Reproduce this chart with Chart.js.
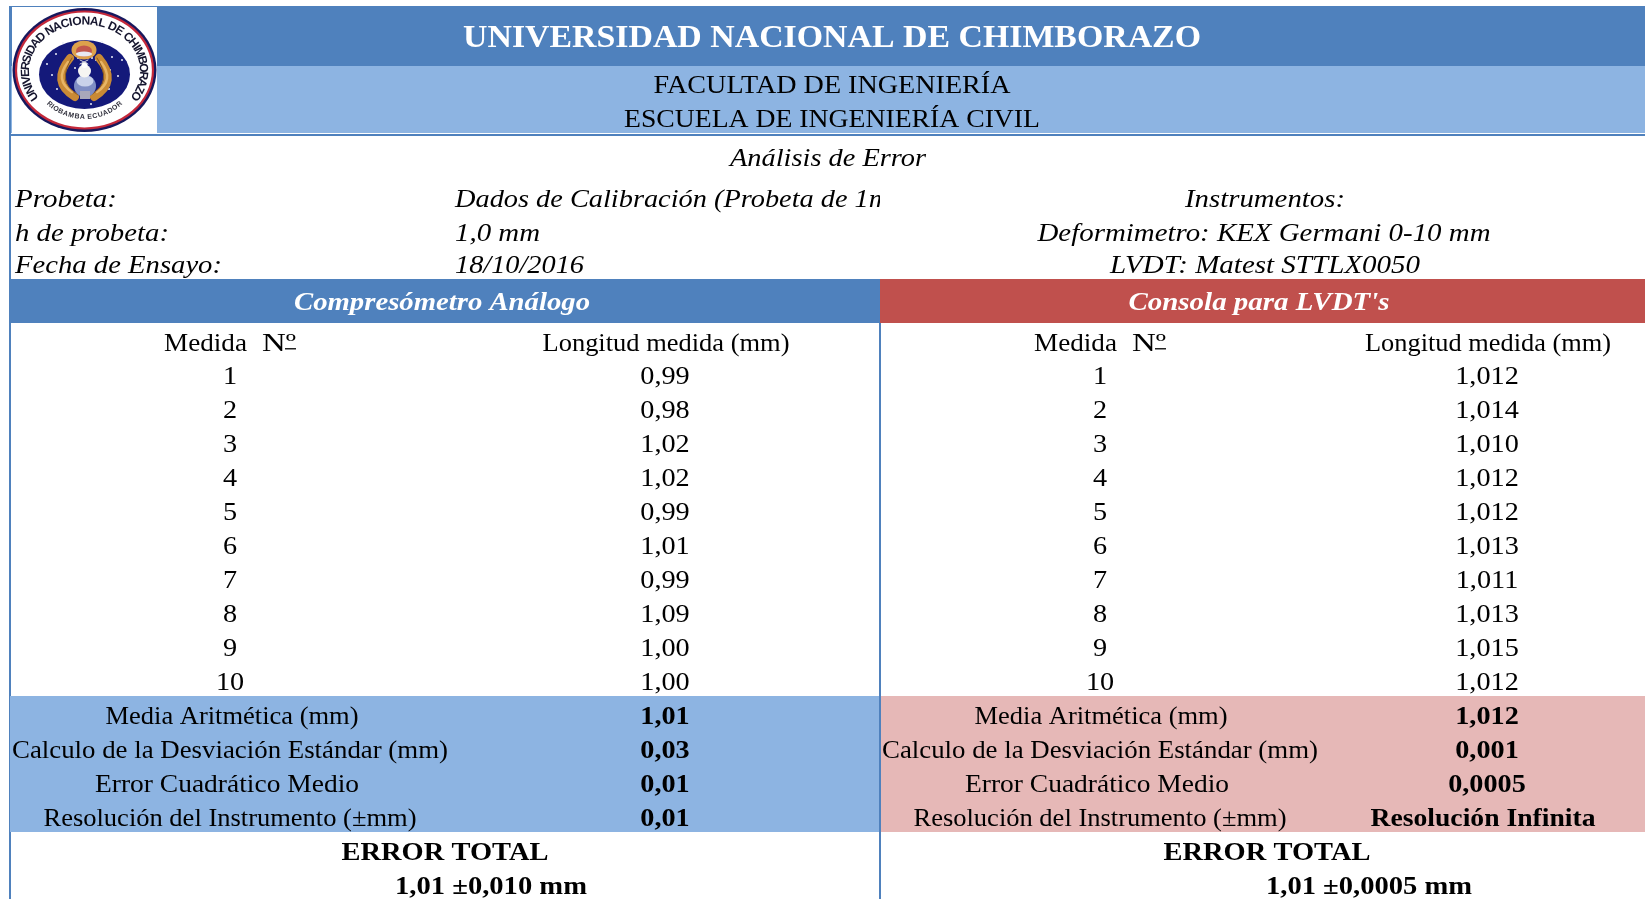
<!DOCTYPE html>
<html lang="es">
<head>
<meta charset="utf-8">
<title>Análisis de Error</title>
<script src="https://cdn.jsdelivr.net/npm/chart.js@4/dist/chart.umd.js"></script>
<style>html,body{margin:0;padding:0;background:#fff;overflow:hidden}canvas{display:block}</style>
</head>
<body>
<canvas id="c" width="1645" height="899"></canvas>
<script>
// ---------- values ----------
const measureNumbers = [1,2,3,4,5,6,7,8,9,10];
const analogLengths = [0.99,0.98,1.02,1.02,0.99,1.01,0.99,1.09,1.00,1.00];
const lvdtLengths = [1.012,1.014,1.010,1.012,1.012,1.013,1.011,1.013,1.015,1.012];
const summaryLabels = ["Media Aritmética (mm)","Calculo de la Desviación Estándar (mm)","Error Cuadrático Medio","Resolución del Instrumento (±mm)"];
const analogSummary = ["1,01","0,03","0,01","0,01"];
const lvdtSummary = ["1,012","0,001","0,0005","Resolución Infinita"];
const totalLabel = "ERROR TOTAL";
const analogTotal = "1,01 ±0,010 mm";
const lvdtTotal = "1,01 ±0,0005 mm";
const infoLabels = ["Probeta:","h de probeta:","Fecha de Ensayo:"];
const infoValues = ["Dados de Calibración (Probeta de 1mm)","1,0 mm","18/10/2016"];
const instrumentLines = ["Instrumentos:","Deformimetro: KEX Germani 0-10 mm","LVDT: Matest STTLX0050"];

// ---------- layout ----------
const W = 1645, H = 899, SPLIT = 880;
const ROW0 = 350, PITCH = 34;
const rowY = i => ROW0 + PITCH * i;
const COL = {lNum:230, lVal:665, rNum:1100, rVal:1487};
const SUM_W = [253,436,264,373];
const SUM_DX = [2,0,-3,0];
const STY = {
  title:{font:'bold 31px "Liberation Serif"',color:'#fff',h:1},
  sub:{font:'26px "Liberation Serif"',color:'#000',h:1},
  ital:{font:'italic 26px "Liberation Serif"',color:'#000',h:1.09},
  head:{font:'italic bold 26px "Liberation Serif"',color:'#fff',h:1},
  body:{font:'25px "Liberation Serif"',color:'#000',h:1.13},
  bold:{font:'bold 25px "Liberation Serif"',color:'#000',h:1.13}
};
const fmt = (v,d) => v.toFixed(d).replace('.',',');
function cell(x,y,text,style,w,align,clip){return {x,y,text,style,w,align,clip};}

const headCells = [
  cell(832,47,"UNIVERSIDAD NACIONAL DE CHIMBORAZO",'title',738),
  cell(832,93,"FACULTAD DE INGENIERÍA",'sub',357),
  cell(832,127,"ESCUELA DE INGENIERÍA CIVIL",'sub',416),
  cell(828,166,"Análisis de Error",'ital',196),
  cell(15,207,infoLabels[0],'ital',102,'left'),
  cell(15,241,infoLabels[1],'ital',154,'left'),
  cell(15,273,infoLabels[2],'ital',207,'left'),
  cell(455,207,infoValues[0],'ital',null,'left',SPLIT),
  cell(455,241,infoValues[1],'ital',85,'left'),
  cell(455,273,infoValues[2],'ital',129,'left'),
  cell(1265,207,instrumentLines[0],'ital',160),
  cell(1264,241,instrumentLines[1],'ital',453),
  cell(1265,273,instrumentLines[2],'ital',310),
  cell(442,310,"Compresómetro Análogo",'head',296),
  cell(1259,310,"Consola para LVDT's",'head',261)
];
const analogCells = [
  cell(164,351,"Medida",'body',83,'left'),
  cell(262,351,"Nº",'body',34,'left'),
  cell(COL.lVal+1,351,"Longitud medida (mm)",'body',247),
  ...measureNumbers.map((n,i)=>cell(COL.lNum,rowY(i+1),String(n),'body')),
  ...analogLengths.map((v,i)=>cell(COL.lVal,rowY(i+1),fmt(v,2),'body')),
  ...summaryLabels.map((t,i)=>cell(COL.lNum+SUM_DX[i],rowY(i+11),t,'body',SUM_W[i])),
  ...analogSummary.map((t,i)=>cell(COL.lVal,rowY(i+11),t,'bold')),
  cell(445,rowY(15),totalLabel,'bold',207),
  cell(491,rowY(16),analogTotal,'bold',192)
];
const lvdtCells = [
  cell(1034,351,"Medida",'body',83,'left'),
  cell(1132,351,"Nº",'body',34,'left'),
  cell(COL.rVal+1,351,"Longitud medida (mm)",'body',246),
  ...measureNumbers.map((n,i)=>cell(COL.rNum,rowY(i+1),String(n),'body')),
  ...lvdtLengths.map((v,i)=>cell(COL.rVal,rowY(i+1),fmt(v,3),'body')),
  ...summaryLabels.map((t,i)=>cell(COL.rNum+[1,0,-3,0][i],rowY(i+11),t,'body',SUM_W[i])),
  ...lvdtSummary.map((t,i)=>cell(i===3?1483:COL.rVal,rowY(i+11),t,'bold',i===3?225:null)),
  cell(1267,rowY(15),totalLabel,'bold',207),
  cell(1369,rowY(16),lvdtTotal,'bold',206)
];

const BLUE='#4F81BD', LIGHT='#8DB4E2', RED='#C0504D', PINK='#E6B8B7';

function drawBands(chart){
  const {ctx,scales:{x,y}} = chart;
  const band=(x0,y0,x1,y1,c)=>{ctx.fillStyle=c;const a=x.getPixelForValue(x0),b=y.getPixelForValue(y0);
    ctx.fillRect(a,b,x.getPixelForValue(x1)-a,y.getPixelForValue(y1)-b);};
  band(0,0,W,H,'#fff');
  band(9,6,W,66,BLUE);
  band(9,66,W,133,LIGHT);
  band(9,134,W,136,BLUE);
  band(9,6,11,H,BLUE);
  band(10,279,SPLIT,323,BLUE);
  band(SPLIT,279,W,323,RED);
  band(10,696,SPLIT,832,LIGHT);
  band(SPLIT,696,W,832,PINK);
  band(879,323,881,H,BLUE);
  band(12,7,157,133,'#fff');
  band(285,348,296,349.5,'#222');
  band(1155,348,1166,349.5,'#222');
}

function arcText(ctx,text,cx,cy,rx,ry,t0,t1,font,color){
  ctx.font=font;ctx.fillStyle=color;ctx.textAlign='center';ctx.textBaseline='alphabetic';
  const ws=[...text].map(c=>ctx.measureText(c).width);
  const tot=ws.reduce((a,b)=>a+b,0);
  let acc=0;
  const flip=t1<t0;
  [...text].forEach((c,i)=>{
    const t=(t0+(t1-t0)*(acc+ws[i]/2)/tot)*Math.PI/180;
    acc+=ws[i];
    const px=cx+rx*Math.cos(t),py=cy+ry*Math.sin(t);
    let ang=Math.atan2(ry*Math.cos(t),-rx*Math.sin(t));
    if(flip)ang+=Math.PI;
    ctx.save();ctx.translate(px,py);ctx.rotate(ang);ctx.fillText(c,0,0);ctx.restore();
  });
}

function drawLogo(ctx){
  const cx=84.5,cy=70;
  const ell=(x,y,rx,ry,c,rot)=>{ctx.fillStyle=c;ctx.beginPath();ctx.ellipse(x,y,rx,ry,rot||0,0,Math.PI*2);ctx.fill();};
  ctx.save();
  ctx.filter='blur(0.6px)';
  ell(cx,cy,72,62,'#17185E');
  ell(cx,cy,69.6,59.6,'#C4283A');
  ell(cx,cy,67.4,57.4,'#fff');
  // inner seal
  ell(cx,74.5,45.5,34.5,'#14197A');
  // stars
  [[63,43],[102,42],[56,54],[112,57],[47,64],[122,60],[52,75],[118,76],[57,89],[109,89],[91,104],[75,68],[96,60],[68,60],[110,70],[78,58],[92,58]]
    .forEach(p=>ell(p[0],p[1],1,1,'#E8ECF8'));
  // dome
  ell(84,50,12.5,9.5,'#DDA24C');
  ell(84,51,8,5.5,'#C2574C');
  ell(84,54,8,2.6,'#E8EAF2');
  // wreath: two laurel crescents
  ctx.lineCap='round';
  const arc=(pts,w,c)=>{ctx.strokeStyle=c;ctx.lineWidth=w;ctx.beginPath();ctx.moveTo(pts[0],pts[1]);ctx.quadraticCurveTo(pts[2],pts[3],pts[4],pts[5]);ctx.stroke();};
  arc([70,58,50,82,75,97],8,'#C98A35');
  arc([99,58,119,82,94,97],8,'#C98A35');
  arc([68,62,54,80,72,92],2.5,'#E8B566');
  arc([101,62,115,80,97,92],2.5,'#E8B566');
  arc([72,58,56,82,78,95],1,'#8A5A22');
  arc([97,58,113,82,91,95],1,'#8A5A22');
  // globe and monument
  ell(85,86,11,11,'#7F8EC4');
  ell(85,81,8.5,5.5,'#C9D2EA');
  ctx.fillStyle='#A9A8BA';ctx.fillRect(80,91,10,8);
  ell(84.5,71,6.5,6.5,'#F6F5F2');
  ell(84.5,65,3,3,'#fff');
  ctx.strokeStyle='#D6D6DE';ctx.lineWidth=1;ctx.beginPath();ctx.moveTo(80,60);ctx.lineTo(88,64);ctx.moveTo(88,60);ctx.lineTo(80,64);ctx.stroke();
  ctx.filter='blur(0.35px)';
  arcText(ctx,"UNIVERSIDAD NACIONAL DE CHIMBORAZO",cx,71,55.5,46.5,146,394,'bold 12px "Liberation Sans"','#15152e');
  arcText(ctx,"RIOBAMBA ECUADOR",cx,69,53,50,136,44,'bold 7px "Liberation Sans"','#33333f');
  ctx.restore();
}

const tablePainter = {
  id:'tablePainter',
  beforeDatasetsDraw(chart){ drawBands(chart); drawLogo(chart.ctx); },
  afterDatasetsDraw(chart){
    const ctx=chart.ctx;
    chart.data.datasets.forEach((ds,di)=>{
      chart.getDatasetMeta(di).data.forEach((el,i)=>{
        const c=ds.data[i], s=STY[c.style];
        ctx.save();
        ctx.font=s.font; ctx.fillStyle=s.color; ctx.textBaseline='alphabetic';
        if(c.clip){ctx.beginPath();ctx.rect(0,0,c.clip,H);ctx.clip();}
        const m=ctx.measureText(c.text).width;
        const h=c.w?c.w/m:s.h;
        ctx.translate(el.x,el.y); ctx.scale(h,1);
        ctx.textAlign=c.align||'center';
        ctx.fillText(c.text,0,0);
        ctx.restore();
      });
    });
  }
};

new Chart(document.getElementById('c'),{
  type:'scatter',
  data:{datasets:[
    {label:'Encabezado',data:headCells,pointRadius:0},
    {label:'Compresómetro Análogo',data:analogCells,pointRadius:0},
    {label:"Consola para LVDT's",data:lvdtCells,pointRadius:0}
  ]},
  options:{
    responsive:false,animation:false,
    layout:{padding:0},
    events:[],
    plugins:{legend:{display:false},tooltip:{enabled:false},title:{display:false}},
    scales:{
      x:{type:'linear',min:0,max:W,display:false},
      y:{type:'linear',min:0,max:H,reverse:true,display:false}
    }
  },
  plugins:[tablePainter]
});
</script>
</body>
</html>
